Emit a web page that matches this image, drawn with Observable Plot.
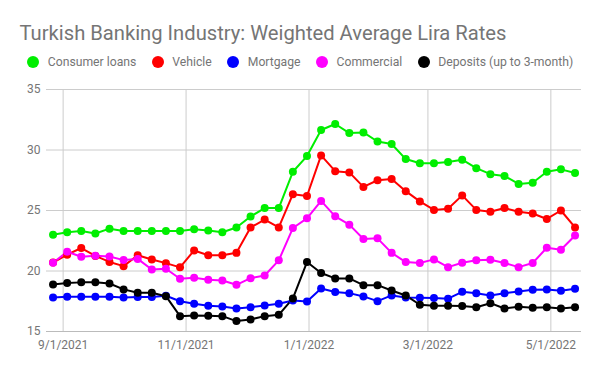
<!DOCTYPE html>
<html>
<head>
<meta charset="utf-8">
<script src="https://cdn.jsdelivr.net/npm/d3@7"></script>
<script src="https://cdn.jsdelivr.net/npm/@observablehq/plot@0.6"></script>
<style>
  html, body { margin: 0; padding: 0; background: #fff; }
  body { width: 600px; height: 371px; overflow: hidden; font-family: Roboto, sans-serif; }
  #title { height: 47px; box-sizing: border-box; padding: 22.5px 0 0 19.5px; font-size: 20.2px; color: #757575; line-height: 20px; white-space: nowrap; }
  #legend { height: 33px; box-sizing: border-box; padding: 0 0 3px 27.3px; display: flex; align-items: center; font-size: 12.2px; color: #757575; white-space: nowrap; }
  .item { display: flex; align-items: center; margin-right: 15.5px; }
  .sw { width: 12px; height: 12px; border-radius: 50%; margin-right: 8.5px; }
</style>
</head>
<body>
<div id="title"></div>
<div id="legend"></div>
<div id="chart"></div>
<script>
const titleText = "Turkish Banking Industry: Weighted Average Lira Rates";
const seriesNames = ["Consumer loans", "Vehicle", "Mortgage", "Commercial", "Deposits (up to 3-month)"];
const seriesColors = ["#00ee00", "#ff0000", "#0000ff", "#ff00ff", "#000000"];
const startDate = "2021-08-27"; // weekly observations
const consumer = [23.0, 23.2, 23.3, 23.1, 23.5, 23.3, 23.3, 23.3, 23.3, 23.3, 23.45, 23.35, 23.2, 23.6, 24.5, 25.2, 25.2, 28.2, 29.5, 31.65, 32.15, 31.4, 31.45, 30.7, 30.5, 29.25, 28.9, 28.9, 29.0, 29.2, 28.5, 28.0, 27.85, 27.2, 27.3, 28.2, 28.4, 28.1];
const vehicle = [20.7, 21.35, 21.9, 21.25, 20.75, 20.4, 21.3, 20.95, 20.65, 20.3, 21.7, 21.3, 21.3, 21.5, 23.6, 24.25, 23.6, 26.35, 26.2, 29.55, 28.25, 28.15, 26.95, 27.5, 27.6, 26.6, 25.75, 25.05, 25.15, 26.25, 25.05, 24.9, 25.2, 24.9, 24.75, 24.3, 25.0, 23.6];
const mortgage = [17.8, 17.87, 17.87, 17.87, 17.87, 17.82, 17.85, 17.85, 17.95, 17.5, 17.3, 17.12, 17.07, 16.9, 17.0, 17.15, 17.3, 17.57, 17.48, 18.56, 18.26, 18.17, 17.9, 17.51, 17.98, 17.81, 17.79, 17.76, 17.71, 18.28, 18.17, 17.98, 18.17, 18.31, 18.45, 18.48, 18.37, 18.53];
const commercial = [20.68, 21.59, 21.18, 21.26, 21.2, 20.9, 21.0, 20.13, 20.19, 19.36, 19.44, 19.28, 19.22, 18.86, 19.41, 19.63, 20.88, 23.55, 24.35, 25.79, 24.52, 23.83, 22.64, 22.7, 21.5, 20.74, 20.66, 20.96, 20.32, 20.68, 20.88, 20.93, 20.66, 20.32, 20.66, 21.92, 21.76, 22.94];
const deposits = [18.89, 19.0, 19.06, 19.08, 18.97, 18.48, 18.2, 18.2, 17.92, 16.27, 16.32, 16.3, 16.27, 15.86, 16.0, 16.27, 16.38, 17.73, 20.74, 19.83, 19.39, 19.39, 18.83, 18.83, 18.39, 17.98, 17.21, 17.12, 17.12, 17.1, 17.01, 17.34, 16.9, 17.04, 16.96, 17.01, 16.9, 17.01];
const yTicks = [15, 20, 25, 30, 35];
const xTickLabels = ["9/1/2021", "11/1/2021", "1/1/2022", "3/1/2022", "5/1/2022"];

const allValues = [consumer, vehicle, mortgage, commercial, deposits];
const parseMDY = s => { const [m, d, y] = s.split("/").map(Number); return new Date(Date.UTC(y, m - 1, d)); };
const xTicks = xTickLabels.map(parseMDY);
const t0 = new Date(startDate + "T00:00:00Z");
const rows = [];
allValues.forEach((vals, si) => vals.forEach((v, i) => rows.push({
  series: seriesNames[si], date: new Date(t0.getTime() + i * 7 * 864e5), value: v
})));

document.getElementById("title").textContent = titleText;
const legend = document.getElementById("legend");
seriesNames.forEach((n, i) => {
  const it = document.createElement("div"); it.className = "item";
  const sw = document.createElement("div"); sw.className = "sw"; sw.style.background = seriesColors[i];
  const tx = document.createElement("span"); tx.textContent = n;
  it.appendChild(sw); it.appendChild(tx); legend.appendChild(it);
});

const fmt = d => `${d.getUTCMonth() + 1}/${d.getUTCDate()}/${d.getUTCFullYear()}`;
const chart = Plot.plot({
  width: 600, height: 291,
  marginLeft: 46, marginRight: 19, marginTop: 9, marginBottom: 40,
  style: { fontFamily: "Roboto, sans-serif", fontSize: "12px", color: "#757575", background: "#fff" },
  x: { type: "utc", domain: [new Date(Date.UTC(2021, 7, 23, 18)), new Date(Date.UTC(2022, 4, 16, 5))] },
  y: { domain: [15, 35] },
  color: { domain: seriesNames, range: seriesColors },
  marks: [
    Plot.gridY(yTicks, { stroke: "#cccccc", strokeOpacity: 1 }),
    Plot.gridX(xTicks, { stroke: "#cccccc", strokeOpacity: 1 }),
    Plot.ruleY([15], { stroke: "#bbbbbb" }),
    Plot.axisY(yTicks, { tickSize: 0, tickPadding: 6, label: null, fill: "#757575", fontSize: 12 }),
    Plot.axisX(xTicks, { tickSize: 0, tickPadding: 9, tickFormat: fmt, label: null, fill: "#757575", fontSize: 12 }),
    Plot.line(rows, { x: "date", y: "value", z: "series", stroke: "series", strokeWidth: 2 }),
    Plot.dot(rows, { x: "date", y: "value", fill: "series", r: 4 })
  ]
});
document.getElementById("chart").appendChild(chart);
</script>
</body>
</html>
